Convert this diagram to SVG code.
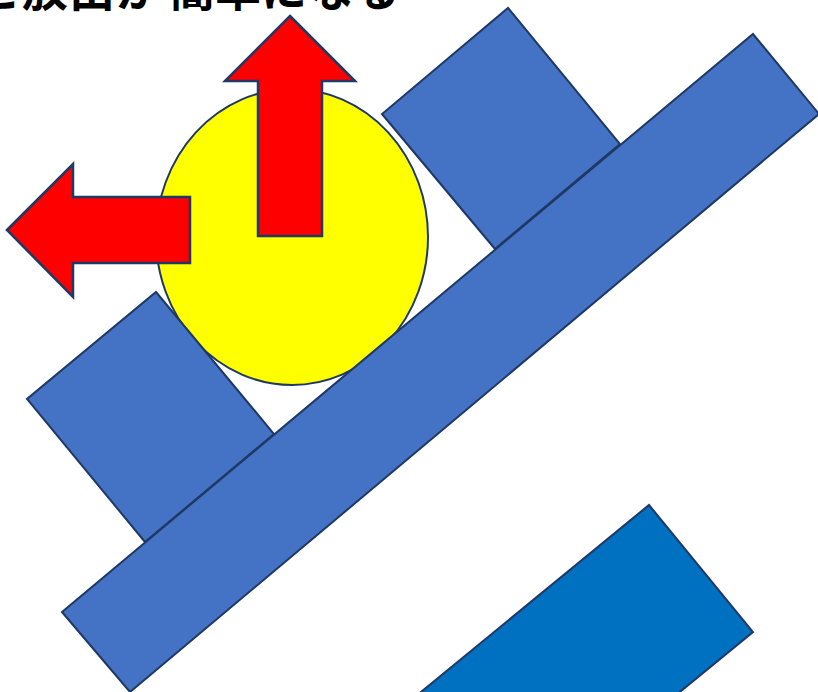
<svg xmlns="http://www.w3.org/2000/svg" width="818" height="692" viewBox="0 0 818 692">
<style>
.blk{fill:#4472C4;stroke:#1F3864;stroke-width:2;stroke-linejoin:miter}
.blk2{fill:#0070C0;stroke:#1F3864;stroke-width:2}
.ball{fill:#FFFF00;stroke:#1F3864;stroke-width:2}
.arr{fill:#FF0000;stroke:#1F3864;stroke-width:2.5;stroke-linejoin:miter}
.ttl{font-family:"Noto Sans CJK JP","Noto Sans CJK SC",sans-serif;font-weight:bold;font-size:46px;fill:#000;text-anchor:middle}
</style>
<rect width="818" height="692" fill="#fff"/>
<g id="ball"><ellipse class="ball" cx="292" cy="237" rx="136" ry="148"/></g>
<g id="block-upper"><polygon class="blk" points="508,8 620,144 495,249 382,114"/></g>
<g id="block-lower"><polygon class="blk" points="156,292 274,434 145,542 27,399"/></g>
<g id="plank"><polygon class="blk" points="62,612 753,34 819,114 130,692"/></g>
<g id="block-bottom"><polygon class="blk2" points="649,505 753,632 353,960 249,833"/></g>
<g id="arrow-up"><polygon class="arr" points="290,16 355,81 322,81 322,236 258,236 258,81 225,81"/></g>
<g id="arrow-left"><polygon class="arr" points="7,230 73,164 73,197 190,197 190,263 73,263 73,297"/></g>
<g id="title"><text class="ttl" y="6" x="-2 45 92 139 192 238 284 331 377">と放出が簡単になる</text></g>
</svg>
